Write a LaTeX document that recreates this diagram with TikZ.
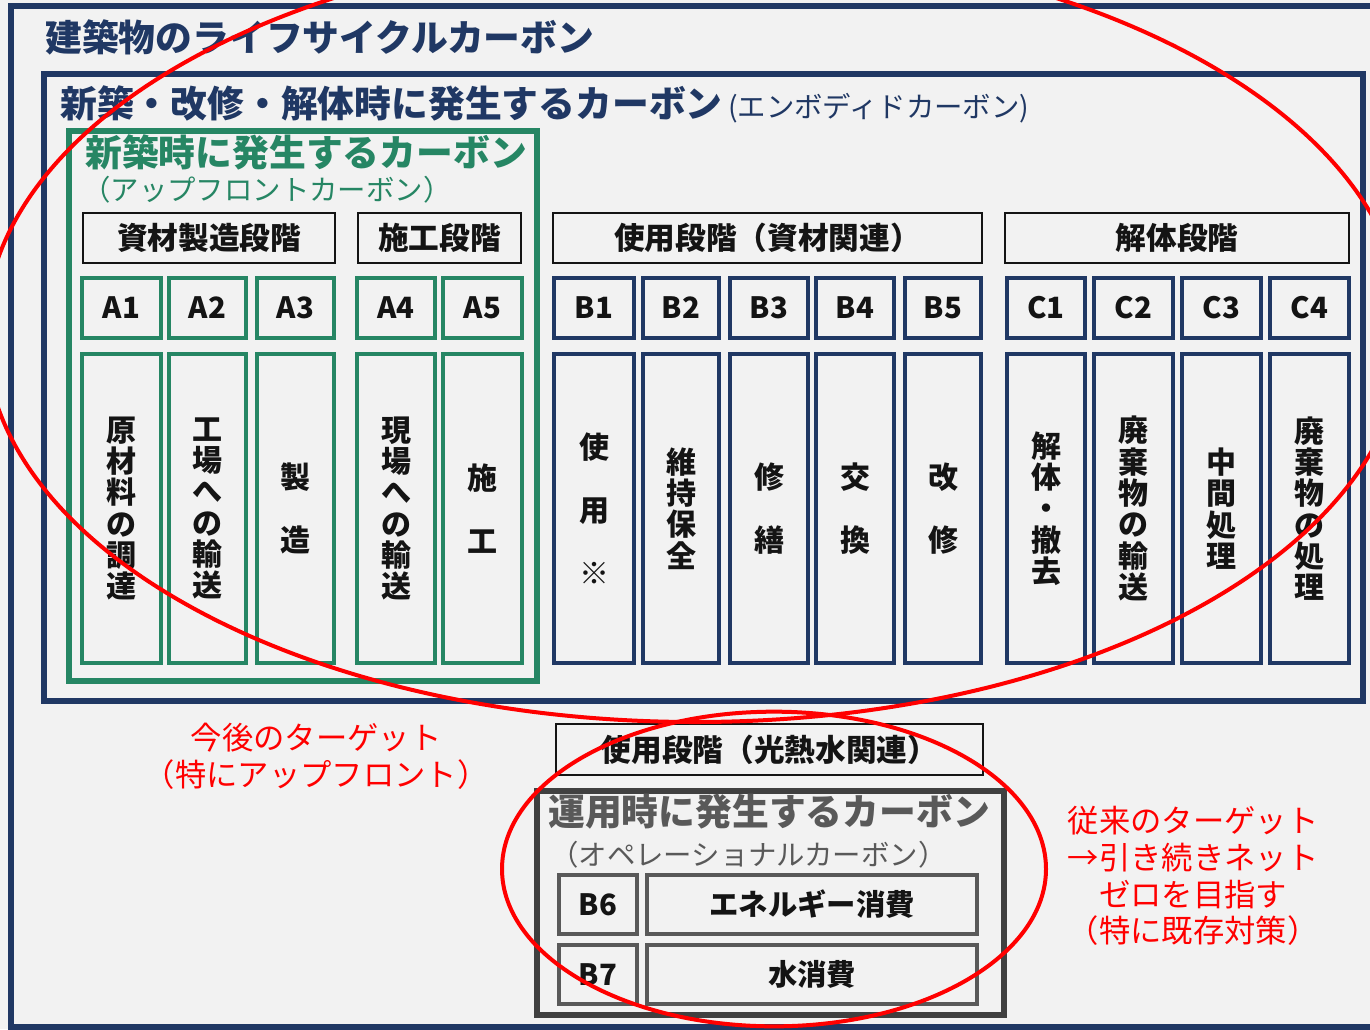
\documentclass[tikz,border=0pt]{standalone}
\usepackage{fontspec}
\setmainfont{Noto Sans CJK JP}
\definecolor{navy}{RGB}{32,56,100}
\definecolor{grn}{RGB}{38,134,100}
\definecolor{opgray}{RGB}{64,64,64}
\definecolor{txtgray}{RGB}{89,89,89}
\definecolor{bgc}{RGB}{242,242,242}
\definecolor{ink}{RGB}{20,20,20}
\newcommand\bx[7]{\node[#2, minimum width={(#5-#3)*0.75pt}, minimum height={(#6-#4)*0.75pt}] (#1) at ({(#3+#5)/2},{(#4+#6)/2}) {#7};}
\begin{document}
\begin{tikzpicture}[x=0.75pt,y=-0.75pt,
  box/.style={rectangle, inner sep=0pt, outer sep=0pt, text=ink},
  hdr/.style={box, draw=ink, line width=1.5pt, font=\fontsize{23}{23}\selectfont\bfseries},
  gcode/.style={box, draw=grn, line width=3pt, font=\fontsize{22}{22}\selectfont\bfseries},
  bcode/.style={box, draw=navy, line width=3pt, font=\fontsize{22}{22}\selectfont\bfseries},
  gcol/.style={box, draw=grn, line width=3pt, align=center, font=\fontsize{22.5}{23.5}\selectfont\bfseries},
  bcol/.style={box, draw=navy, line width=3pt, align=center, font=\fontsize{22.5}{23.5}\selectfont\bfseries},
  ocode/.style={box, draw=txtgray, line width=2.5pt, font=\fontsize{22}{22}\selectfont\bfseries},
  frm/.style={draw=navy, line width=4.5pt},
  ttl/.style={inner sep=0pt, anchor=west, font=\fontsize{27.6}{28}\selectfont\bfseries},
  sub/.style={inner sep=0pt, anchor=west, font=\fontsize{21.3}{21.3}\selectfont},
  note/.style={inner sep=0pt, align=center, text=red, font=\fontsize{23.5}{27.5}\selectfont},
  target/.style={draw=red, line width=3pt}
]
\useasboundingbox (0,0) rectangle (1370,1029);
\fill[bgc] (0,0) rectangle (1370,1029);
% outer frame
\draw[frm] (11,6) rectangle (1390,1027);
\node[ttl, text=navy] (t0) at (45,37) {建築物のライフサイクルカーボン};
% embodied frame
\draw[frm] (44,74) rectangle (1363,701);
\node[inner sep=0pt, anchor=base west, text=navy] (t1) at (60,117)
  {{\fontsize{27.6}{28}\selectfont\bfseries 新築・改修・解体時に発生するカーボン}\hspace{4pt}{\fontsize{21.3}{21.3}\selectfont (エンボディドカーボン)}};
% upfront frame
\draw[draw=grn, line width=4pt] (69,131) rectangle (537,681);
\node[ttl, text=grn] (t2) at (85,152) {新築時に発生するカーボン};
\node[sub, text=grn] (t2s) at (82,190) {（アップフロントカーボン）};
% stage headers
\bx{h1}{hdr}{83}{213}{335}{263}{資材製造段階}
\bx{h2}{hdr}{358}{213}{521}{263}{施工段階}
\bx{h3}{hdr}{553}{213}{982}{263}{使用段階（資材関連）}
\bx{h4}{hdr}{1005}{213}{1349}{263}{解体段階}
% A codes
\bx{a1}{gcode}{82}{278}{161}{338}{A1}
\bx{a2}{gcode}{169}{278}{246}{338}{A2}
\bx{a3}{gcode}{257}{278}{334}{338}{A3}
\bx{a4}{gcode}{357}{278}{435}{338}{A4}
\bx{a5}{gcode}{443}{278}{522}{338}{A5}
\bx{a1t}{gcol}{82}{354}{161}{663}{原\\材\\料\\の\\調\\達}
\bx{a2t}{gcol}{169}{354}{246}{663}{工\\場\\へ\\の\\輸\\送}
\bx{a3t}{gcol}{257}{354}{334}{663}{製\\[23.5pt]造}
\bx{a4t}{gcol}{357}{354}{435}{663}{現\\場\\へ\\の\\輸\\送}
\bx{a5t}{gcol}{443}{354}{522}{663}{施\\[23.5pt]工}
% B codes
\bx{b1}{bcode}{554}{278}{634}{338}{B1}
\bx{b2}{bcode}{643}{278}{719}{338}{B2}
\bx{b3}{bcode}{730}{278}{808}{338}{B3}
\bx{b4}{bcode}{816}{278}{894}{338}{B4}
\bx{b5}{bcode}{905}{278}{981}{338}{B5}
\bx{b1t}{bcol}{554}{354}{634}{663}{使\\[23.5pt]用\\[23.5pt]※}
\bx{b2t}{bcol}{643}{354}{719}{663}{維\\持\\保\\全}
\bx{b3t}{bcol}{730}{354}{808}{663}{修\\[23.5pt]繕}
\bx{b4t}{bcol}{816}{354}{894}{663}{交\\[23.5pt]換}
\bx{b5t}{bcol}{905}{354}{981}{663}{改\\[23.5pt]修}
% C codes
\bx{c1}{bcode}{1007}{278}{1085}{338}{C1}
\bx{c2}{bcode}{1094}{278}{1173}{338}{C2}
\bx{c3}{bcode}{1182}{278}{1261}{338}{C3}
\bx{c4}{bcode}{1270}{278}{1349}{338}{C4}
\bx{c1t}{bcol}{1007}{354}{1085}{663}{解\\体\\・\\撤\\去}
\bx{c2t}{bcol}{1094}{354}{1173}{663}{廃\\棄\\物\\の\\輸\\送}
\bx{c3t}{bcol}{1182}{354}{1261}{663}{中\\間\\処\\理}
\bx{c4t}{bcol}{1270}{354}{1349}{663}{廃\\棄\\物\\の\\処\\理}
% operational
\bx{h5}{hdr}{556}{724}{983}{775}{使用段階（光熱水関連）}
\draw[draw=opgray, line width=4.5pt] (537,791) rectangle (1004,1015);
\node[ttl, text=txtgray] (t3) at (548,812) {運用時に発生するカーボン};
\node[sub, text=txtgray] (t3s) at (550,855) {（オペレーショナルカーボン）};
\bx{b6}{ocode}{559}{875}{637}{934}{B6}
\bx{b6t}{ocode}{647}{875}{977}{934}{エネルギー消費}
\bx{b7}{ocode}{559}{945}{637}{1004}{B7}
\bx{b7t}{ocode}{647}{945}{977}{1004}{水消費}
% targets
\draw[target] (695,333) ellipse [x radius=532.5pt, y radius=291.75pt];
\draw[target] (774,869) ellipse [x radius=204pt, y radius=118pt];
\node[note] (n1) at (316,756) {今後のターゲット\\（特にアップフロント）};
\node[note] (n2) at (1193,876) {従来のターゲット\\→引き続きネット\\ゼロを目指す\\（特に既存対策）};
\end{tikzpicture}
\end{document}
